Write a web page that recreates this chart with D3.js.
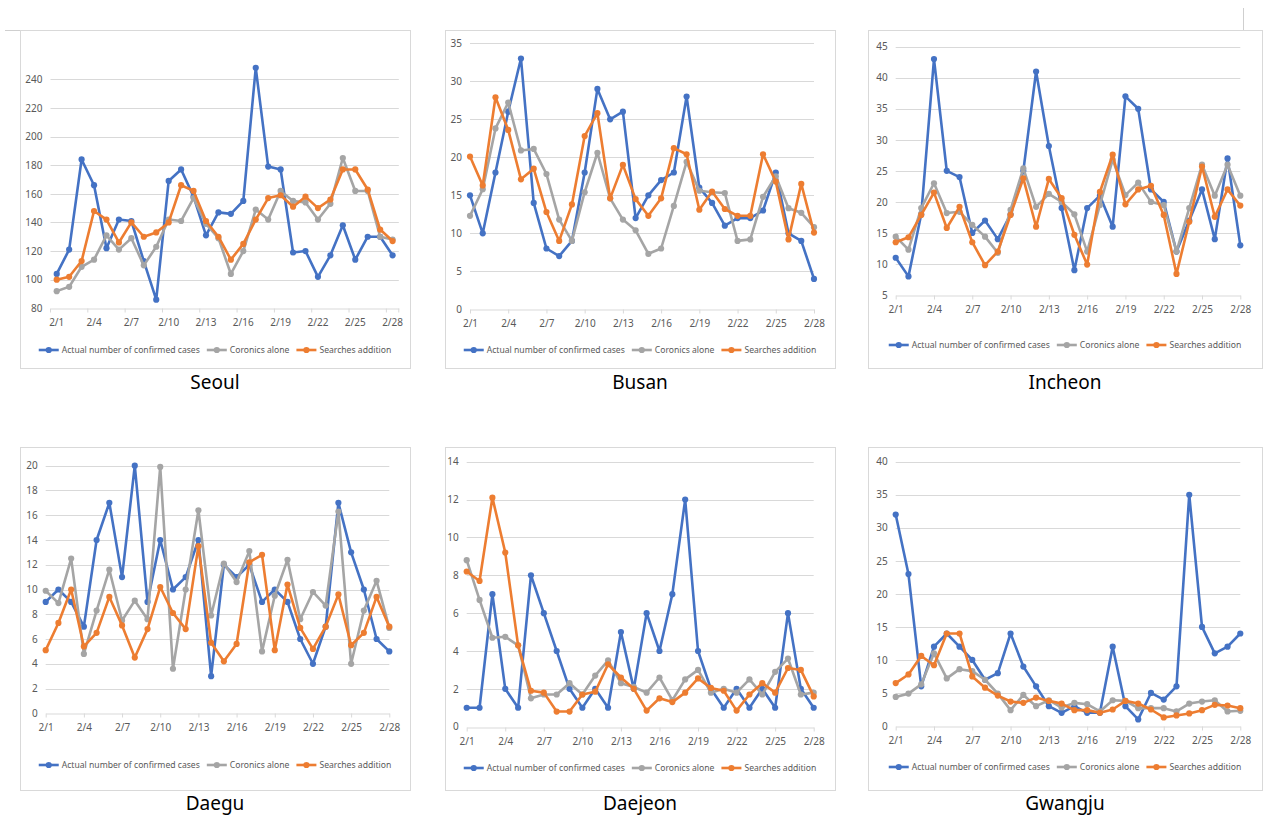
<!DOCTYPE html>
<html><head><meta charset="utf-8">
<script src="https://cdn.jsdelivr.net/npm/d3@7/dist/d3.min.js"></script>
<style>body{margin:0;background:#fff}svg{display:block}text{font-family:"Noto Sans",sans-serif}</style>
</head><body><svg id="c" width="1264" height="817"></svg>
<script>
const dates = ["2/1","2/2","2/3","2/4","2/5","2/6","2/7","2/8","2/9","2/10","2/11","2/12","2/13","2/14","2/15","2/16","2/17","2/18","2/19","2/20","2/21","2/22","2/23","2/24","2/25","2/26","2/27","2/28"];
const labelDates = ["2/1","2/4","2/7","2/10","2/13","2/16","2/19","2/22","2/25","2/28"];
const seriesNames = ["Actual number of confirmed cases","Coronics alone","Searches addition"];
const seriesColors = ["#4472C4","#A5A5A5","#ED7D31"];

const seoulActual = [104,121,184,166,122,142,141,113,86,169,177,158,131,147,146,155,248,179,177,119,120,102,117,138,114,130,130,117];
const seoulCoronics = [92,95,109,114,131,121,129,110,123,142,141,157,139,129,104,120,149,142,162,155,154,142,153,185,162,162,130,128];
const seoulSearches = [100,102,113,148,142,126,140,130,133,140,166,162,141,130,114,125,142,157,159,151,158,150,156,177,177,163,135,127];
const seoulTicks = [80,100,120,140,160,180,200,220,240];

const busanActual = [15,10,18,26,33,14,8,7,9,18,29,25,26,12,15,17,18,28,16,14,11,12,12,13,18,10,9,4];
const busanCoronics = [12.3,15.8,23.8,27.2,20.9,21.1,17.8,11.8,9.0,15.4,20.6,14.6,11.8,10.4,7.3,8.0,13.6,19.4,15.6,15.4,15.3,9.0,9.2,14.8,17.5,13.3,12.7,10.8];
const busanSearches = [20.1,16.3,27.9,23.6,17.1,18.5,12.8,9.0,13.8,22.8,25.8,14.6,19.0,14.5,12.3,14.6,21.2,20.4,13.1,15.5,13.2,12.3,12.3,20.4,16.8,9.2,16.5,10.1];
const busanTicks = [0,5,10,15,20,25,30,35];

const incheonActual = [11,8,18,43,25,24,15,17,14,18,25,41,29,19,9,19,21,16,37,35,22,20,12,17,22,14,27,13];
const incheonCoronics = [14.4,12.3,19.0,23.0,18.2,18.4,16.3,14.4,11.8,18.7,25.4,19.2,21.3,20.0,18.0,12.0,19.5,26.8,21.1,23.1,20.0,19.5,12.0,19.0,26.0,21.0,26.0,21.0];
const incheonSearches = [13.5,14.3,17.9,21.5,15.8,19.2,13.5,9.8,12.0,17.9,23.8,16.0,23.7,20.6,14.7,9.9,21.6,27.6,19.6,22.0,22.6,17.9,8.4,16.8,25.7,17.6,22.0,19.4];
const incheonTicks = [5,10,15,20,25,30,35,40,45];

const daeguActual = [9,10,9,7,14,17,11,20,9,14,10,11,14,3,12,11,12,9,10,9,6,4,7,17,13,10,6,5];
const daeguCoronics = [9.9,8.9,12.5,4.8,8.3,11.6,7.5,9.1,7.6,19.9,3.6,10.0,16.4,7.9,12.1,10.6,13.1,5.0,9.5,12.4,7.6,9.8,8.7,16.3,4.0,8.3,10.7,6.9];
const daeguSearches = [5.1,7.3,10.0,5.4,6.5,9.4,7.1,4.5,6.8,10.2,8.1,6.8,13.5,5.7,4.2,5.6,12.2,12.8,5.1,10.4,6.9,5.2,7.0,9.6,5.5,6.5,9.4,7.0];
const daeguTicks = [0,2,4,6,8,10,12,14,16,18,20];

const daejeonActual = [1,1,7,2,1,8,6,4,2,1,2,1,5,2,6,4,7,12,4,2,1,2,1,2,1,6,2,1];
const daejeonCoronics = [8.8,6.7,4.7,4.75,4.3,1.5,1.7,1.7,2.3,1.7,2.7,3.5,2.3,2.1,1.8,2.6,1.4,2.5,3.0,1.8,2.0,1.8,2.5,1.7,2.9,3.6,1.7,1.8];
const daejeonSearches = [8.2,7.7,12.1,9.2,4.3,1.9,1.8,0.8,0.8,1.7,1.85,3.3,2.6,2.0,0.85,1.5,1.3,1.8,2.55,2.05,1.9,0.85,1.7,2.3,1.8,3.1,3.0,1.6];
const daejeonTicks = [0,2,4,6,8,10,12,14];

const gwangjuActual = [32,23,6,12,14,12,10,7,8,14,9,6,3,2,3,2,2,12,3,1,5,4,6,35,15,11,12,14];
const gwangjuCoronics = [4.4,4.9,6.3,11.0,7.2,8.6,8.3,7.0,4.9,2.4,4.7,3.0,3.9,2.8,3.5,3.3,2.2,3.9,3.8,2.7,2.7,2.7,2.2,3.4,3.7,3.9,2.2,2.3];
const gwangjuSearches = [6.5,7.8,10.6,9.2,14,14,7.5,5.8,4.6,3.7,3.5,4.3,3.8,3.4,2.4,2.4,2.0,2.5,3.8,3.4,2.5,1.3,1.6,1.9,2.4,3.2,3.1,2.7];
const gwangjuTicks = [0,5,10,15,20,25,30,35,40];

// layout (kept separate from data)
const panels = [
  {title:"Seoul",  series:[seoulActual,seoulCoronics,seoulSearches], ticks:seoulTicks, box:[20,30,410,368], xr:[50.5,398.8], yr:[308.3,79.3], band:true, legendY:350, titleY:389},
  {title:"Busan",  series:[busanActual,busanCoronics,busanSearches], ticks:busanTicks, box:[445,30,835,368], xr:[470,814], yr:[309.3,43.3], band:false, legendY:350, titleY:389},
  {title:"Incheon",series:[incheonActual,incheonCoronics,incheonSearches], ticks:incheonTicks, box:[868,30,1262,368], xr:[895.7,1240.3], yr:[295,46.7], band:false, legendY:345, titleY:389},
  {title:"Daegu",  series:[daeguActual,daeguCoronics,daeguSearches], ticks:daeguTicks, box:[20,447,410,790], xr:[45.7,389.3], yr:[713.3,465.7], band:false, legendY:765, titleY:810},
  {title:"Daejeon",series:[daejeonActual,daejeonCoronics,daejeonSearches], ticks:daejeonTicks, box:[445,447,835,790], xr:[466.7,813.7], yr:[726.7,461.7], band:false, legendY:768, titleY:810},
  {title:"Gwangju",series:[gwangjuActual,gwangjuCoronics,gwangjuSearches], ticks:gwangjuTicks, box:[868,447,1262,790], xr:[895.7,1240.3], yr:[726,461.7], band:false, legendY:767, titleY:810}
];

const svg = d3.select("#c");
svg.append("line").attr("x1",1243.5).attr("x2",1243.5).attr("y1",8).attr("y2",30).attr("stroke","#cfcfcf");
svg.append("line").attr("x1",5).attr("x2",20).attr("y1",30.5).attr("y2",30.5).attr("stroke","#cfcfcf");

panels.forEach(p => {
  const g = svg.append("g");
  const [bx0,by0,bx1,by1] = p.box;
  g.append("rect").attr("x",bx0+0.5).attr("y",by0+0.5).attr("width",bx1-bx0).attr("height",by1-by0)
    .attr("fill","#fff").attr("stroke","#d9d9d9");

  const y = d3.scaleLinear().domain([p.ticks[0], p.ticks[p.ticks.length-1]]).range(p.yr);
  let x, px;
  if (p.band) {
    x = d3.scaleBand().domain(dates).range(p.xr);
    px = d => x(d) + x.bandwidth()/2;
  } else {
    x = d3.scalePoint().domain(dates).range(p.xr);
    px = d => x(d);
  }

  g.append("g").selectAll("line").data(p.ticks.slice(1)).join("line")
    .attr("x1",p.xr[0]).attr("x2",p.xr[1])
    .attr("y1",d=>Math.round(y(d))+0.5).attr("y2",d=>Math.round(y(d))+0.5)
    .attr("stroke","#d9d9d9").attr("stroke-width",1);

  const ya = g.append("g").attr("transform",`translate(${p.xr[0]},0)`)
    .call(d3.axisLeft(y).tickValues(p.ticks).tickSize(0).tickPadding(8).tickFormat(d3.format("d")));
  ya.select(".domain").remove();
  ya.selectAll("text").attr("fill","#595959").style("font-size","10px");

  const axisY = Math.round(y(p.ticks[0]))+0.5;
  const xa = g.append("g").attr("transform",`translate(0,${axisY})`)
    .call(d3.axisBottom(x).tickValues(labelDates).tickSize(p.band?0:4).tickSizeOuter(0).tickPadding(p.band?10:6));
  xa.select(".domain").attr("stroke","#d9d9d9");
  xa.selectAll(".tick line").attr("stroke","#d9d9d9");
  xa.selectAll("text").attr("fill","#595959").style("font-size","10px");
  if (p.band) {
    const bt = labelDates.map(d => x(d)).concat([p.xr[1]]);
    g.append("g").selectAll("line").data(bt).join("line")
      .attr("x1",d=>d).attr("x2",d=>d).attr("y1",axisY).attr("y2",axisY+4)
      .attr("stroke","#d9d9d9");
  }

  p.series.forEach((vals, si) => {
    const pts = dates.map((d,i)=>[px(d), y(vals[i])]);
    g.append("path").attr("d", d3.line()(pts)).attr("fill","none")
      .attr("stroke",seriesColors[si]).attr("stroke-width",2.6).attr("stroke-linejoin","round");
    g.append("g").selectAll("circle").data(pts).join("circle")
      .attr("cx",d=>d[0]).attr("cy",d=>d[1]).attr("r",3.1).attr("fill",seriesColors[si]);
  });

  const lg = g.append("g");
  let cx = 0;
  seriesNames.forEach((n, si) => {
    const it = lg.append("g").attr("transform",`translate(${cx},0)`);
    it.append("line").attr("x1",0).attr("x2",20).attr("y1",0).attr("y2",0).attr("stroke",seriesColors[si]).attr("stroke-width",2.6);
    it.append("circle").attr("cx",10).attr("cy",0).attr("r",3.1).attr("fill",seriesColors[si]);
    const t = it.append("text").attr("x",23).attr("y",0).attr("dy","0.35em").text(n)
      .attr("fill","#595959").style("font-size","8.6px");
    cx += 23 + t.node().getComputedTextLength() + 7;
  });
  const total = cx - 7;
  lg.attr("transform",`translate(${(bx0+bx1)/2 - total/2},${p.legendY})`);

  svg.append("text").attr("x",(bx0+bx1)/2).attr("y",p.titleY).attr("text-anchor","middle")
    .style("font-size","19px").attr("fill","#000").text(p.title);
});
</script></body></html>
